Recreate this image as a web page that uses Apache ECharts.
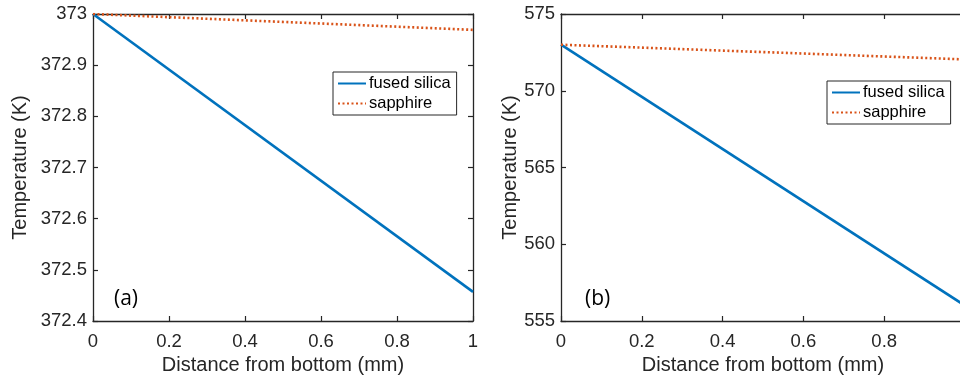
<!DOCTYPE html>
<html>
<head>
<meta charset="utf-8">
<script src="https://cdn.jsdelivr.net/npm/echarts@6/dist/echarts.min.js"></script>
<style>
  html, body { margin: 0; padding: 0; background: #fff; }
  #chart { width: 960px; height: 377px; }
</style>
</head>
<body>
<div id="chart"></div>
<script>
// distance from bottom (mm)
const distance = [0, 1];
// panel (a)
const silicaA = [373, 372.457];
const sapphireA = [373, 372.969];
// panel (b)
const silicaB = [573, 556.0];
const sapphireB = [573, 572.04];

const xTicks = { min: 0, max: 1, interval: 0.2 };
const yTicksA = { min: 372.4, max: 373, interval: 0.1 };
const yTicksB = { min: 555, max: 575, interval: 5 };

const FONT = 'Liberation Sans, Arial, sans-serif';
const AXIS = '#262626';
const BLUE = '#0072BD';
const ORANGE = '#D95319';

const fmt = v => String(Math.round(v * 10) / 10);

function pairs(xs, ys) {
  return xs.map((x, i) => [x, ys[i]]);
}

function xAxes(gridIndex) {
  const base = {
    type: 'value',
    gridIndex: gridIndex,
    min: xTicks.min, max: xTicks.max, interval: xTicks.interval,
    splitLine: { show: false },
    axisLine: { show: true, onZero: false, lineStyle: { color: AXIS, width: 1.3 } },
    axisTick: { show: true, inside: true, length: 5, lineStyle: { color: AXIS, width: 1.2 } }
  };
  return [
    Object.assign({}, base, {
      position: 'bottom',
      name: 'Distance from bottom (mm)',
      nameLocation: 'middle',
      nameGap: 30,
      nameTextStyle: { fontFamily: FONT, fontSize: 20, color: AXIS },
      axisLabel: { formatter: fmt, fontFamily: FONT, fontSize: 18.5, color: AXIS, margin: 11 }
    }),
    Object.assign({}, base, { position: 'top', axisLabel: { show: false } })
  ];
}

function yAxes(gridIndex, t, gap) {
  const base = {
    type: 'value',
    gridIndex: gridIndex,
    min: t.min, max: t.max, interval: t.interval,
    scale: true,
    splitLine: { show: false },
    axisLine: { show: true, onZero: false, lineStyle: { color: AXIS, width: 1.3 } },
    axisTick: { show: true, inside: true, length: 5, lineStyle: { color: AXIS, width: 1.2 } }
  };
  return [
    Object.assign({}, base, {
      position: 'left',
      name: 'Temperature (K)',
      nameLocation: 'middle',
      nameGap: gap,
      nameTextStyle: { fontFamily: FONT, fontSize: 20, color: AXIS },
      axisLabel: { formatter: fmt, fontFamily: FONT, fontSize: 18.5, color: AXIS, margin: 6 }
    }),
    Object.assign({}, base, { position: 'right', axisLabel: { show: false } })
  ];
}

function legend(left, top) {
  return {
    left: left, top: top,
    orient: 'vertical',
    data: ['fused silica', 'sapphire'].map(n => ({ name: n })),
    selectedMode: false,
    itemWidth: 28, itemHeight: 14, itemGap: 3,
    padding: [3, 6, 3, 4],
    borderColor: AXIS, borderWidth: 1, borderRadius: 0,
    backgroundColor: '#fff',
    itemStyle: { opacity: 0 },
    textStyle: { fontFamily: FONT, fontSize: 16.5, color: '#000', padding: [0, 0, 0, -2] }
  };
}

function lineSeries(name, color, type, xi, yi, data) {
  return {
    name: name,
    type: 'line',
    xAxisIndex: xi,
    yAxisIndex: yi,
    data: data,
    symbol: 'none',
    silent: true,
    animation: false,
    lineStyle: { color: color, width: 2.6, type: type },
    itemStyle: { color: color }
  };
}

const chart = echarts.init(document.getElementById('chart'));
chart.setOption({
  animation: false,
  backgroundColor: '#fff',
  grid: [
    { left: 93, top: 14, width: 380, height: 307, outerBoundsMode: 'none' },
    { left: 561, top: 14, width: 404, height: 307, outerBoundsMode: 'none' }
  ],
  xAxis: xAxes(0).concat(xAxes(1)),
  yAxis: yAxes(0, yTicksA, 63).concat(yAxes(1, yTicksB, 41)),
  legend: [legend(333, 72), legend(827, 81)],
  series: [
    lineSeries('fused silica', BLUE, 'solid', 0, 0, pairs(distance, silicaA)),
    lineSeries('sapphire', ORANGE, [2, 2.5], 0, 0, pairs(distance, sapphireA)),
    lineSeries('fused silica', BLUE, 'solid', 2, 2, pairs(distance, silicaB)),
    lineSeries('sapphire', ORANGE, [2, 2.5], 2, 2, pairs(distance, sapphireB))
  ],
  graphic: [
    { type: 'text', left: 114, top: 289, style: { text: '(a)', font: '21px "Open Sans", sans-serif', fill: '#000' } },
    { type: 'text', left: 585, top: 289, style: { text: '(b)', font: '21px "Open Sans", sans-serif', fill: '#000' } }
  ]
});
</script>
</body>
</html>
